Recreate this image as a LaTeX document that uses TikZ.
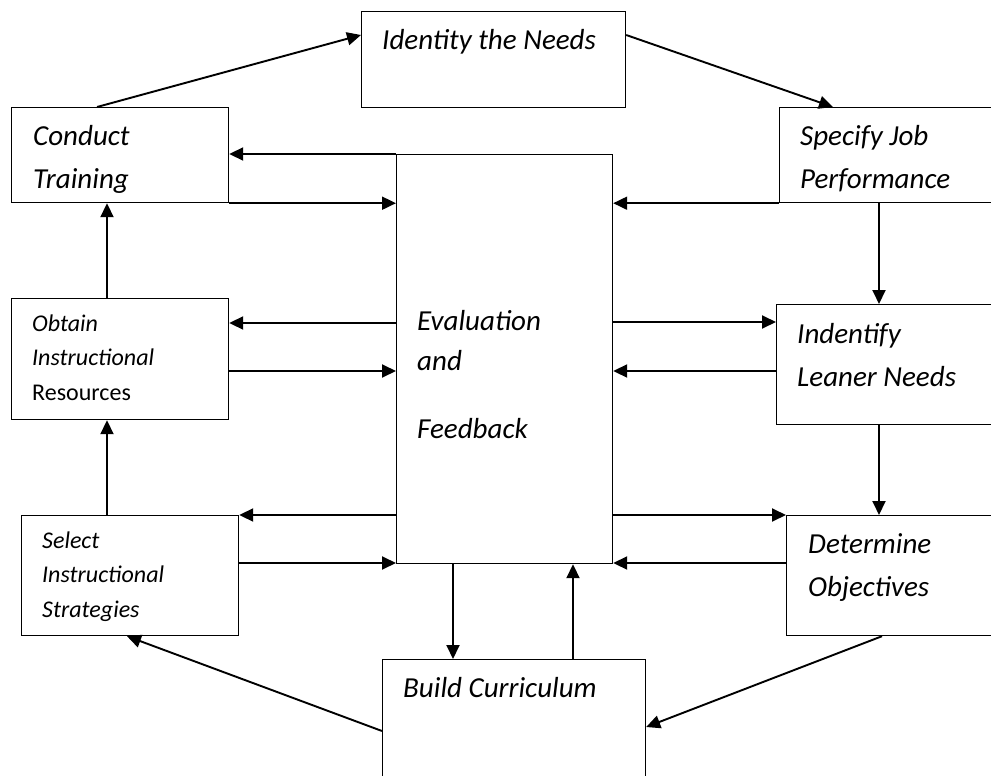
\documentclass[tikz,border=0pt]{standalone}
\usepackage{fontspec}
\setmainfont{Carlito}
\usetikzlibrary{arrows.meta}
\begin{document}
\begin{tikzpicture}[x=1pt,y=-1pt]
        \tikzstyle{box} = [draw, line width=1.2pt, rectangle, anchor=north west, inner sep=0pt]
        \tikzstyle{txt} = [anchor=base west, align=left, inner sep=0pt, font=\itshape\fontsize{29}{43}\selectfont]
        \tikzstyle{small} = [txt, font=\itshape\fontsize{24}{34.5}\selectfont]
        \tikzstyle{arr} = [line width=1.9pt, -{Triangle[length=14pt, width=13pt]}]
        \useasboundingbox (0,0) rectangle (991,776);

        \node[box, minimum width=264pt, minimum height=96pt](needs) at (361,11){};
        \node[box, minimum width=217pt, minimum height=95pt](conduct) at (11,107){};
        \node[box, minimum width=230pt, minimum height=95pt](specify) at (779,107){};
        \node[box, minimum width=216pt, minimum height=409pt](eval) at (396,154){};
        \node[box, minimum width=217pt, minimum height=121pt](obtain) at (11,298){};
        \node[box, minimum width=230pt, minimum height=120pt](learner) at (776,304){};
        \node[box, minimum width=217pt, minimum height=120pt](select) at (21,515){};
        \node[box, minimum width=230pt, minimum height=120pt](objectives) at (786,515){};
        \node[box, minimum width=263pt, minimum height=140pt](build) at (382,659){};

        % base anchor sits on the last line
        \node[txt](needstxt) at ([xshift=21pt, yshift=-39pt]needs.north west){Identity the Needs};
        \node[txt](conducttxt) at ([xshift=22pt, yshift=-81pt]conduct.north west){Conduct\\Training};
        \node[txt](specifytxt) at ([xshift=21pt, yshift=-81pt]specify.north west){Specify Job\\Performance};
        \node[txt, font=\itshape\fontsize{29}{40}\selectfont](evaltxt) at ([xshift=21pt, yshift=-284pt]eval.north west){Evaluation\\and\\[28pt]Feedback};
        \node[small](obtaintxt) at ([xshift=21pt, yshift=-102pt]obtain.north west){Obtain\\Instructional\\{\upshape Resources}};
        \node[txt](learnertxt) at ([xshift=21pt, yshift=-82pt]learner.north west){Indentify\\Leaner Needs};
        \node[small](selecttxt) at ([xshift=21pt, yshift=-102pt]select.north west){Select\\Instructional\\Strategies};
        \node[txt](objectivestxt) at ([xshift=22pt, yshift=-81pt]objectives.north west){Determine\\Objectives};
        \node[txt](buildtxt) at ([xshift=21pt, yshift=-38pt]build.north west){Build Curriculum};

        % outer cycle
        \draw[arr] ([xshift=86pt]conduct.north west) -- ([yshift=-24pt]needs.north west);
        \draw[arr] ([yshift=-24pt]needs.north east) -- ([xshift=54pt]specify.north west);
        \draw[arr] ([xshift=100pt]specify.south west) -- ([xshift=103pt]learner.north west);
        \draw[arr] ([xshift=103pt]learner.south west) -- ([xshift=93pt]objectives.north west);
        \draw[arr] ([xshift=96pt]objectives.south west) -- ([yshift=-68pt]build.north east);
        \draw[arr] ([yshift=-72pt]build.north west) -- ([xshift=106pt]select.south west);
        \draw[arr] ([xshift=86pt]select.north west) -- ([xshift=96pt]obtain.south west);
        \draw[arr] ([xshift=96pt]obtain.north west) -- ([xshift=96pt]conduct.south west);

        % to and from the evaluation
        \path ([yshift=-25pt]obtain.north east) coordinate (o1)
              ([yshift=-73pt]obtain.north east) coordinate (o2)
              ([yshift=-48pt]select.north east) coordinate (s1)
              ([yshift=-18pt]learner.north west) coordinate (l1)
              ([yshift=-67pt]learner.north west) coordinate (l2)
              ([yshift=-48pt]objectives.north west) coordinate (d1);
        \draw[arr] (eval.north west) -- (eval.north west -| conduct.east);
        \draw[arr] (conduct.south east) -- (conduct.south east -| eval.west);
        \draw[arr] (o1 -| eval.west) -- (o1);
        \draw[arr] (o2) -- (o2 -| eval.west);
        \draw[arr] (select.north east -| eval.west) -- (select.north east);
        \draw[arr] (s1) -- (s1 -| eval.west);
        \draw[arr] (specify.south west) -- (specify.south west -| eval.east);
        \draw[arr] (l1 -| eval.east) -- (l1);
        \draw[arr] (l2) -- (l2 -| eval.east);
        \draw[arr] (objectives.north west -| eval.east) -- (objectives.north west);
        \draw[arr] (d1) -- (d1 -| eval.east);
        \draw[arr] ([xshift=57pt]eval.south west) -- ([xshift=71pt]build.north west);
        \draw[arr] ([xshift=191pt]build.north west) -- ([xshift=177pt]eval.south west);
\end{tikzpicture}
\end{document}
